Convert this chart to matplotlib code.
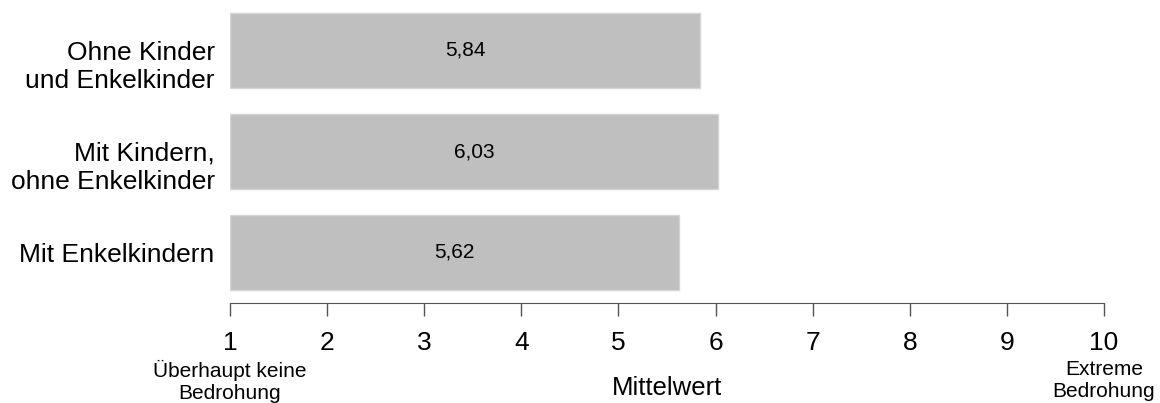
import numpy as np
import matplotlib
matplotlib.use("Agg")
import matplotlib.pyplot as plt
import matplotlib.transforms as mtransforms

plt.rcParams['font.family'] = ['Liberation Sans', 'DejaVu Sans']

# Data
categories = ["Ohne Kinder\nund Enkelkinder", "Mit Kindern,\nohne Enkelkinder", "Mit Enkelkindern"]
values = [5.84, 6.03, 5.62]
value_labels = ["5,84", "6,03", "5,62"]
ticks = list(range(1, 11))
end_labels = {1: "Überhaupt keine\nBedrohung", 10: "Extreme\nBedrohung"}

fig = plt.figure(figsize=(11.6, 4.03), dpi=100)
ax = fig.add_axes([230 / 1160, 1 - 303 / 403, (1104 - 230) / 1160, 303 / 403])

ypos = np.arange(len(categories))
base = 1
ax.barh(ypos, np.array(values) - base, left=base, height=0.75,
        color="#bfbfbf", edgecolor="#d4d4d4", linewidth=1)

for y, v, lab in zip(ypos, values, value_labels):
    ax.text((base + v) / 2, y, lab, ha="center", va="center", fontsize=15)

ax.set_xlim(1, 10)
ax.set_ylim(2.5, -0.5)

# category labels: first line centred on the bar, further lines hang below
ax.set_yticks([])
ytrans = mtransforms.blended_transform_factory(ax.transAxes, ax.transData)
for y, cat in zip(ypos, categories):
    for i, line in enumerate(cat.split("\n")):
        ax.annotate(line, xy=(0, y), xycoords=ytrans, xytext=(-11, -6.8 - 20.2 * i),
                    textcoords="offset points", ha="right", va="baseline",
                    fontsize=19)

ax.set_xticks(ticks)
ax.set_xticklabels([str(t) for t in ticks], fontsize=19)
ax.tick_params(axis="x", direction="out", length=9.5, width=1, color="#555555", pad=11)

for s in ["top", "right", "left"]:
    ax.spines[s].set_visible(False)
ax.spines["bottom"].set_color("#555555")

ax.set_xlabel("Mittelwert", fontsize=18.5)
ax.xaxis.set_label_coords(0.5, (303 - 376) / 303)

trans = mtransforms.blended_transform_factory(ax.transData, fig.transFigure)
for x, txt in end_labels.items():
    ax.text(x, 1 - 360 / 403, txt, transform=trans, ha="center", va="top",
            fontsize=15, linespacing=1.2)

fig.savefig("out.png", dpi=100)
plt.close(fig)
